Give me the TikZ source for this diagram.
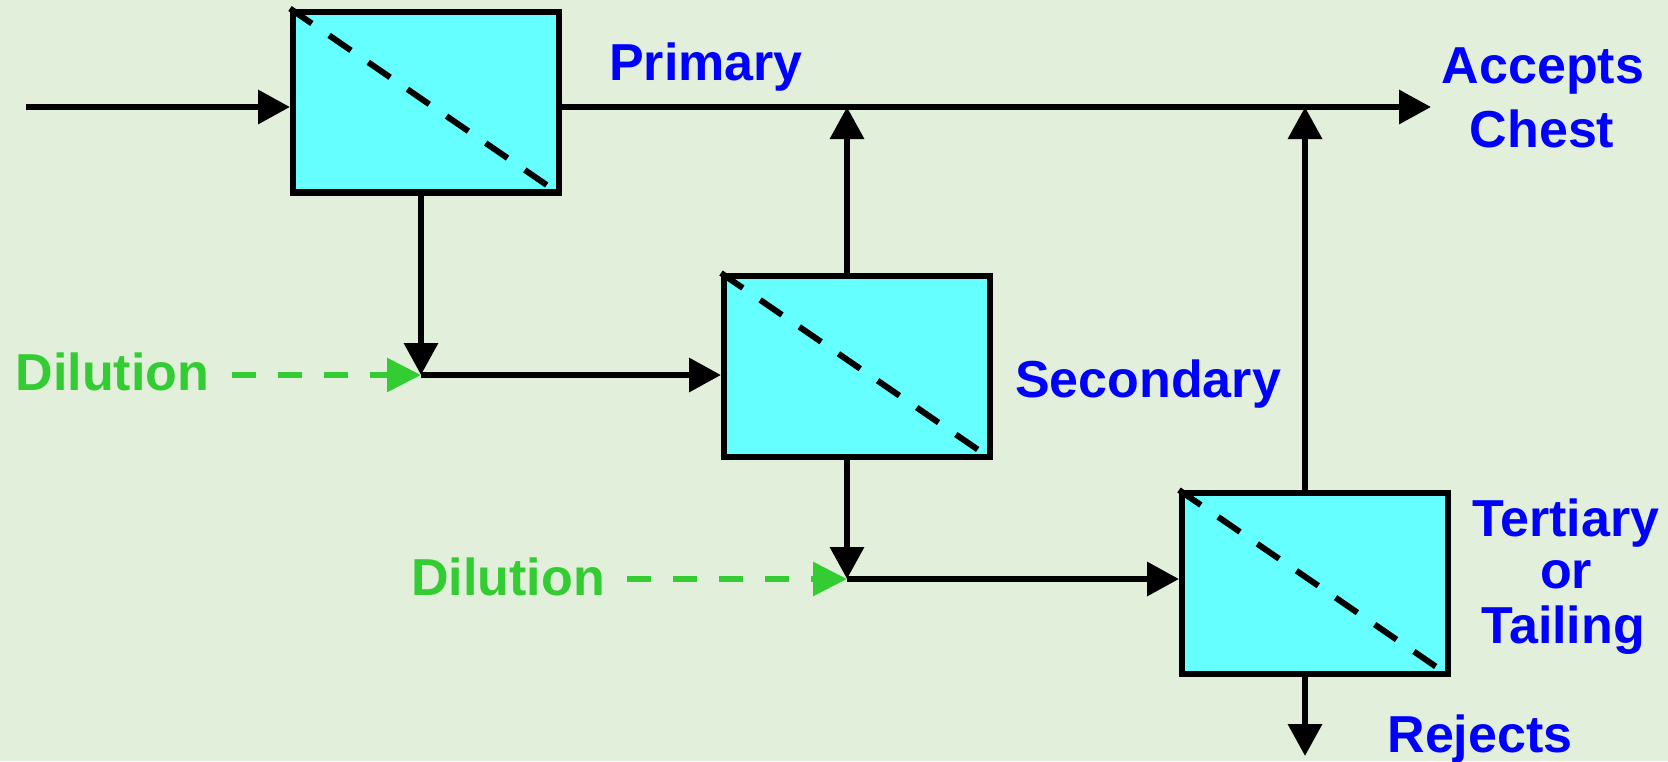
\documentclass[tikz,border=0pt]{standalone}
\usepackage{fontspec}
\setmainfont{Liberation Sans}
\usetikzlibrary{arrows.meta,calc}
\definecolor{bgcol}{RGB}{226,239,218}
\definecolor{boxfill}{RGB}{102,255,255}
\definecolor{lblue}{RGB}{0,0,255}
\definecolor{lgreen}{RGB}{51,204,51}
\begin{document}
\begin{tikzpicture}[x=0.5pt,y=-0.5pt,
  unitbox/.style={draw=black, line width=3.2pt, fill=boxfill, inner sep=0pt,
    minimum width=132.8pt, minimum height=90.3pt},
  diag/.style={line width=3pt, dash pattern=on 13.25pt off 10.5pt},
  conn/.style={line width=3.2pt, -{Triangle[length=16pt,width=16.5pt]}},
  dil/.style={draw=lgreen, line width=3pt, dash pattern=on 12pt off 11pt,
    -{Triangle[length=17pt,width=16.5pt,fill=lgreen]}},
  blab/.style={text=lblue, font=\bfseries\fontsize{26}{30}\selectfont, inner sep=0pt, anchor=base},
  glab/.style={text=lgreen, font=\bfseries\fontsize{26}{30}\selectfont, inner sep=0pt, anchor=base}]
\fill[bgcol] (0,0) rectangle (1668,761);
\useasboundingbox (0,0) rectangle (1668,761);

% boxes
\node[unitbox] (b1) at (426,102) {};
\node[unitbox] (b2) at (857,366.5) {};
\node[unitbox] (b3) at (1315,583.5) {};
\foreach \b in {b1,b2,b3}
  \draw[diag] (\b.north west) -- (\b.south east);

% coordinates
\coordinate (in) at (26,107);
\coordinate (acc) at (1431,107);
\coordinate (v2) at (847,107);
\coordinate (v3) at (1305,107);
\coordinate (j1) at (421,375);
\coordinate (j2) at (847,579);
\coordinate (rej) at (1305,756);

% labels
\node[blab] (lprim) at (706,80) {Primary};
\node[blab] (lacc) at (1543,83) {Accepts};
\node[blab] (lchest) at (1542,147) {Chest};
\node[blab] (lsec) at (1148,397) {Secondary};
\node[blab] (lter) at (1566,536) {Tertiary};
\node[blab] (lor) at (1566,588) {or};
\node[blab] (ltail) at (1563,643) {Tailing};
\node[blab] (lrej) at (1480,752) {Rejects};
\node[glab] (d1) at (112.5,390) {Dilution};
\node[glab] (d2) at (508,595) {Dilution};

% connectors
\draw[conn] (in) -- (in -| b1.west);
\draw[conn] (in -| b1.east) -- (acc);
\draw[conn] (b2.north -| v2) -- (v2);
\draw[conn] (b3.north -| v3) -- (v3);
\draw[conn] (b1.south -| j1) -- (j1);
\draw[conn] (j1) -- (j1 -| b2.west);
\draw[conn] (b2.south -| j2) -- (j2);
\draw[conn] (j2) -- (j2 -| b3.west);
\draw[conn] (b3.south -| rej) -- (rej);
\draw[dil] ([xshift=11pt]d1.east |- j1) -- (j1);
\draw[dil] ([xshift=11pt]d2.east |- j2) -- (j2);
\end{tikzpicture}
\end{document}
